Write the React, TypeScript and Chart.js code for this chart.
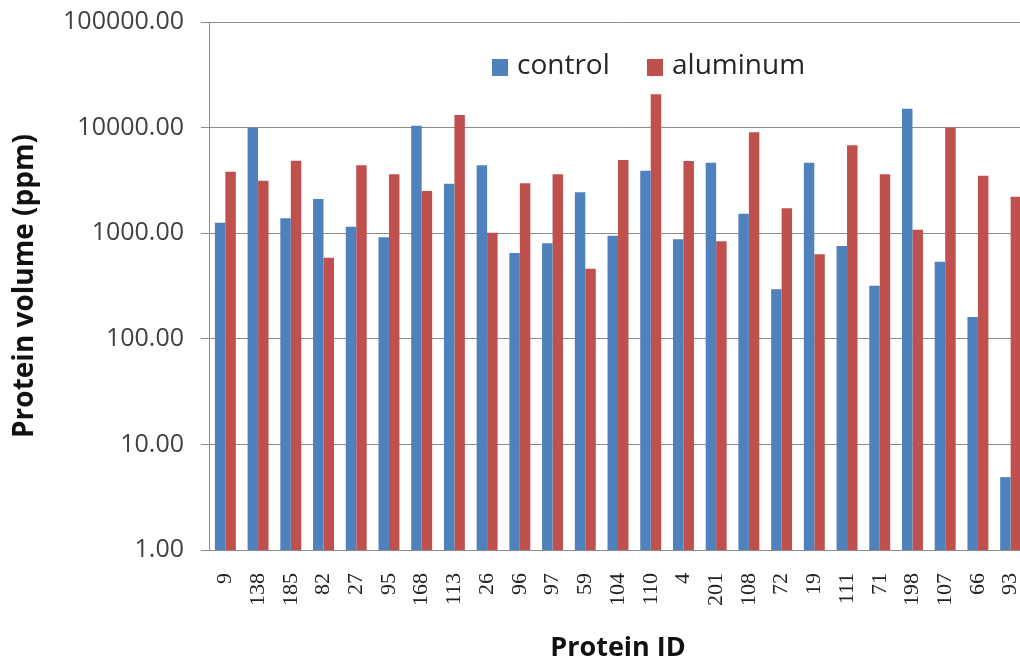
import React, { useEffect, useRef } from "react";
import { Chart, registerables } from "chart.js";

Chart.register(...registerables);

const categories = ["9", "138", "185", "82", "27", "95", "168", "113", "26", "96", "97", "59", "104", "110", "4", "201", "108", "72", "19", "111", "71", "198", "107", "66", "93"];
const controlValues = [1257, 9980, 1384, 2108, 1153, 915, 10420, 2944, 4395, 650, 802, 2439, 948, 3908, 875, 4654, 1531, 294, 4654, 757, 318, 15100, 537, 161, 4.9];
const aluminumValues = [3820, 3140, 4860, 586, 4395, 3614, 2510, 13150, 1011, 2968, 3614, 461, 4933, 20660, 4830, 838, 9020, 1719, 631, 6790, 3614, 1079, 9980, 3500, 2217];
const yTicks = [1, 10, 100, 1000, 10000, 100000];
const seriesNames = ["control", "aluminum"];
const seriesColors = ["#4F81BD", "#C0504D"];

const legendPlugin = {
  id: "manualLegend",
  afterDraw(chart: any) {
    const ctx = chart.ctx;
    ctx.save();
    ctx.font = "28px 'Open Sans', sans-serif";
    ctx.textBaseline = "middle";
    ctx.textAlign = "left";
    const items = [
      { x: 492, label: seriesNames[0], color: seriesColors[0] },
      { x: 647, label: seriesNames[1], color: seriesColors[1] },
    ];
    for (const it of items) {
      ctx.fillStyle = it.color;
      ctx.fillRect(it.x, 59, 16, 17);
      ctx.fillStyle = "#262626";
      ctx.fillText(it.label, it.x + 25, 66);
    }
    ctx.restore();
  },
};

export default function App() {
  const ref = useRef<HTMLCanvasElement | null>(null);
  useEffect(() => {
    if (!ref.current) return;
    const chart = new Chart(ref.current, {
      type: "bar",
      data: {
        labels: categories,
        datasets: [
          { label: seriesNames[0], data: controlValues, backgroundColor: seriesColors[0], categoryPercentage: 0.64, barPercentage: 1.0 },
          { label: seriesNames[1], data: aluminumValues, backgroundColor: seriesColors[1], categoryPercentage: 0.64, barPercentage: 1.0 },
        ],
      },
      options: {
        animation: false,
        responsive: true,
        maintainAspectRatio: false,
        layout: { padding: { top: 22, right: 0, left: 0, bottom: 0 } },
        plugins: {
          legend: { display: false },
          tooltip: { enabled: false },
        },
        scales: {
          x: {
            grid: { display: false, drawTicks: false },
            border: { display: true, color: "#8c8c8c", width: 1 },
            ticks: {
              autoSkip: false,
              maxRotation: 90,
              minRotation: 90,
              padding: 23,
              color: "#222222",
              font: { family: "'Liberation Serif', serif", size: 22 },
            },
            title: {
              display: true,
              text: "Protein ID",
              color: "#111111",
              font: { family: "'Open Sans', sans-serif", size: 27, weight: "bold" },
              padding: { top: 0, bottom: 5 },
            },
            afterFit: (s: any) => {
              s.height = 120;
              s.paddingLeft = 0;
              s.paddingRight = 0;
            },
          },
          y: {
            type: "logarithmic",
            min: 1,
            max: 100000,
            grid: { color: "#8c8c8c", lineWidth: 1, tickLength: 8, drawTicks: true },
            border: { display: true, color: "#8c8c8c", width: 1 },
            afterBuildTicks: (s: any) => {
              s.ticks = yTicks.map((v) => ({ value: v }));
            },
            ticks: {
              padding: 17,
              color: "#404040",
              font: { family: "'Open Sans', sans-serif", size: 25 },
              callback: (v: any) => Number(v).toFixed(2),
            },
            title: {
              display: true,
              text: "Protein volume (ppm)",
              color: "#111111",
              font: { family: "'Open Sans', sans-serif", size: 28, weight: "bold" },
              padding: { top: 8, bottom: 0 },
            },
            afterFit: (s: any) => {
              s.width = 209;
              s.paddingTop = 0;
              s.paddingBottom = 0;
            },
          },
        },
      },
      plugins: [legendPlugin],
    });
    return () => chart.destroy();
  }, []);
  return (
    <div style={{ position: "fixed", left: 0, top: 0, width: 1020, height: 670, overflow: "hidden", background: "#ffffff" }}>
      <div style={{ position: "relative", width: 1027, height: 670 }}>
        <canvas ref={ref} />
      </div>
    </div>
  );
}
